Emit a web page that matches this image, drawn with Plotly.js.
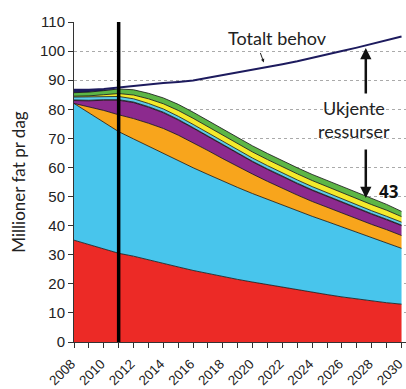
<!DOCTYPE html>
<html>
<head>
<meta charset="utf-8">
<script src="https://cdn.plot.ly/plotly-3.0.1.min.js"></script>
<style>html,body{margin:0;padding:0;background:#fff;}#chart{width:406px;height:389px;}</style>
</head>
<body>
<div id="chart"></div>
<script>
const years = [2008,2009,2010,2011,2012,2013,2014,2015,2016,2017,2018,2019,2020,2021,2022,2023,2024,2025,2026,2027,2028,2029,2030];
const xTickYears = [2008,2010,2012,2014,2016,2018,2020,2022,2024,2026,2028,2030];
const yTicks = [0,10,20,30,40,50,60,70,80,90,100,110];

const red     = [35,33.5,32,30.5,29.5,28.2,27,25.8,24.6,23.5,22.5,21.5,20.6,19.7,18.8,17.9,17.1,16.3,15.5,14.8,14.1,13.5,13];
const blue    = [47,45.3,43.5,41.8,40.3,39.1,37.8,36.5,35.3,34.1,32.8,31.6,30.4,29.3,28.2,27.2,26.1,25.1,24.1,23.0,21.8,20.6,19.2];
const orange  = [0,2.1,4.1,5.8,7.0,7.9,8.6,8.8,8.6,8.2,7.7,7.2,6.7,6.2,5.8,5.4,5.1,4.9,4.7,4.6,4.5,4.5,4.4];
const purple  = [1,2,3.5,5,5.5,5.5,5.4,5.2,5.0,4.8,4.6,4.4,4.2,4.1,4.0,3.9,3.8,3.7,3.6,3.5,3.5,3.4,3.4];
const magenta = [0.2,0.2,0.2,0.2,0.2,0.2,0.2,0.2,0.2,0.2,0.2,0.2,0.2,0.2,0.2,0.2,0.2,0.2,0.2,0.2,0.2,0.2,0.2];
const cyan    = [1.0,1.1,1.1,1.1,1.1,1.1,1.1,1.1,1.1,1.1,1.1,1.1,1.1,1.1,1.1,1.1,1.1,1.1,1.1,1.1,1.0,1.0,1.0];
const yellow  = [0.3,0.4,0.6,1.0,1.3,1.6,1.8,2.0,2.1,2.1,2.1,2.1,2.1,2.1,2.1,2.1,2.1,2.1,2.1,2.1,2.1,2.1,1.9];
const green   = [1.2,1.3,1.4,1.6,1.8,1.9,2.0,2.1,2.1,2.1,2.1,2.1,2.1,2.1,2.1,2.1,2.1,2.1,2.1,2.1,2.1,2.0,1.8];
const navy    = [1.0,0.8,0.4,0,0,0,0,0,0,0,0,0,0,0,0,0,0,0,0,0,0,0,0];
const totalDemand = [86.7,86.7,87.0,87.5,88.2,88.6,89.0,89.4,89.9,90.8,91.7,92.6,93.6,94.5,95.5,96.5,97.6,98.8,100.0,101.2,102.4,103.6,105.0];

const layers = [
  {y: red, fill: '#ec2a26'},
  {y: blue, fill: '#48c5ec'},
  {y: orange, fill: '#f8a51c'},
  {y: purple, fill: '#8c2a8e'},
  {y: magenta, fill: '#e0309c'},
  {y: cyan, fill: '#5ccbe9'},
  {y: yellow, fill: '#f4ea2c'},
  {y: green, fill: '#5db646'},
  {y: navy, fill: '#1d1b5e', noline: true}
];

const traces = layers.map(l => ({
  x: years, y: l.y, type: 'scatter', mode: 'lines', stackgroup: 'one',
  fillcolor: l.fill,
  line: {color: '#111', width: l.noline ? 0 : 0.8, shape: 'linear'},
  hoverinfo: 'skip', showlegend: false
}));

traces.push({
  x: years, y: totalDemand, type: 'scatter', mode: 'lines',
  line: {color: '#1d1b5e', width: 2}, hoverinfo: 'skip', showlegend: false
});
// invisible trace on the minor-tick axis so it renders
traces.push({
  x: [years[0]], y: [0], xaxis: 'x2', yaxis: 'y', type: 'scatter', mode: 'markers',
  marker: {opacity: 0}, hoverinfo: 'skip', showlegend: false
});

const annFamily = 'Lato, Open Sans, sans-serif';
const xRange = [2008, 2030.3];

const layout = {
  width: 406, height: 389,
  margin: {l: 74, r: 0, t: 22, b: 47},
  paper_bgcolor: '#fff', plot_bgcolor: '#fff',
  showlegend: false,
  xaxis: {
    range: xRange, tickmode: 'array', tickvals: xTickYears,
    ticktext: xTickYears.map(v => String(v) + '\u00a0'),
    tickangle: -45, ticks: 'outside', ticklen: 5, tickcolor: '#333',
    ticklabeloverflow: 'allow',
    showline: true, linecolor: '#333', linewidth: 1, showgrid: false, zeroline: false,
    automargin: false,
    tickfont: {family: 'Liberation Sans, Arial, sans-serif', size: 13.5, color: '#222'}
  },
  xaxis2: {
    overlaying: 'x', side: 'bottom', range: xRange, tickmode: 'linear', tick0: 2008, dtick: 1,
    ticks: 'outside', ticklen: 5, tickcolor: '#333', showticklabels: false,
    showgrid: false, zeroline: false, showline: false
  },
  yaxis: {
    range: [0, 110], tickvals: yTicks, ticks: 'outside', ticklen: 5, tickcolor: '#333',
    showline: true, linecolor: '#333', linewidth: 1, zeroline: false,
    showgrid: true, gridcolor: '#aaa', griddash: 'dot', gridwidth: 1,
    tickfont: {family: 'Liberation Sans, Arial, sans-serif', size: 15, color: '#222'},
    title: {text: 'Millioner fat pr dag', standoff: 10,
            font: {family: annFamily, size: 17, color: '#222'}}
  },
  shapes: [
    {type: 'line', xref: 'x', yref: 'y', x0: 2011, x1: 2011, y0: 0, y1: 110,
     line: {color: '#000', width: 3.5}}
  ],
  annotations: [
    {xref: 'x', yref: 'y', x: 2021.7, y: 104.5, text: 'Totalt behov', showarrow: false,
     font: {family: annFamily, size: 18, color: '#222'}},
    {xref: 'x', yref: 'y', x: 2020.75, y: 96.1, text: '', showarrow: true, ax: -4, ay: -11,
     arrowhead: 2, arrowsize: 0.7, arrowwidth: 1, arrowcolor: '#222'},
    {xref: 'x', yref: 'y', x: 2027.6, y: 101.1, text: '', showarrow: true, ax: 0, ay: 47,
     arrowhead: 2, arrowsize: 0.9, arrowwidth: 2.5, arrowcolor: '#111'},
    {xref: 'x', yref: 'y', x: 2026.8, y: 80.4, text: 'Ukjente', showarrow: false,
     font: {family: annFamily, size: 18, color: '#222'}},
    {xref: 'x', yref: 'y', x: 2026.8, y: 72.5, text: 'ressurser', showarrow: false,
     font: {family: annFamily, size: 18, color: '#222'}},
    {xref: 'x', yref: 'y', x: 2027.6, y: 49.5, text: '', showarrow: true, ax: 0, ay: -50,
     arrowhead: 2, arrowsize: 0.9, arrowwidth: 2.5, arrowcolor: '#111'},
    {xref: 'x', yref: 'y', x: 2029.15, y: 51.9, text: '<b>43</b>', showarrow: false,
     font: {family: 'Open Sans, sans-serif', size: 17, color: '#111'}}
  ]
};

Plotly.newPlot('chart', traces, layout, {staticPlot: true, displayModeBar: false});
</script>
</body>
</html>
